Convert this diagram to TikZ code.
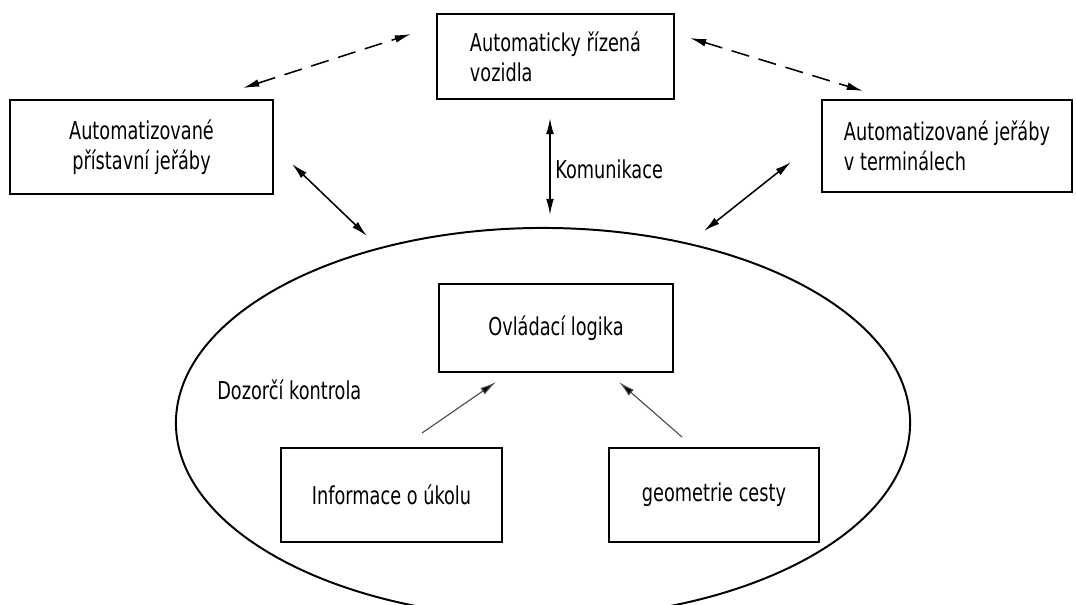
\documentclass[tikz,border=0pt]{standalone}
\usepackage{fontspec}
\setmainfont{DejaVu Sans}[FakeStretch=0.72]
\usepackage{tikz}
\usetikzlibrary{arrows.meta,shapes,positioning}

\begin{document}
\begin{tikzpicture}[x=0.025cm, y=-0.025cm,
		basic/.style = {draw, line width=2pt, rectangle, inner sep=0pt, font=\fontsize{17.5}{21.5}\selectfont},
		outer/.style = {basic, align=left},
		inner/.style = {basic, align=center},
		txt/.style   = {inner sep=0pt, anchor=west, font=\fontsize{17.5}{21.5}\selectfont},
		link/.style  = {<->, line width=1.1pt},
		feed/.style  = {->, line width=0.8pt, draw=black!70},
		>={Latex[length=11.5pt,width=5.5pt]}]

		\useasboundingbox (0,0) rectangle (1076,604);

		% Supervisory control, the big ellipse
		\node[draw, ellipse, line width=1.4pt, minimum width=18.35cm, minimum height=9.75cm] (ctrl) at (543,423) {};
		\node[txt] (ctrltext) at (217,390) {Dozorčí kontrola};

		% The three machine groups round it
		\node[outer, minimum width=5.925cm, minimum height=2.125cm] (agv) at (555.5,56.5) {Automaticky řízená\\vozidla};
		\node[outer, align=center, minimum width=6.575cm, minimum height=2.35cm] (quay) at (141.5,147) {Automatizované\\přístavní jeřáby};
		\node[outer, minimum width=6.25cm, minimum height=2.3cm] (yard) at (947,146) {Automatizované jeřáby\\v terminálech};

		% Inside the ellipse
		\begin{scope}[every node/.style={inner, minimum height=2.35cm}]
		\node[minimum width=5.85cm, minimum height=2.2cm] (logic) at (556,328) {Ovládací logika};
		\node[minimum width=5.525cm] (task) at (391.5,495) {Informace o úkolu};
		\node[minimum width=5.25cm] (path) at (714,495) {geometrie cesty};
		\end{scope}

		% Free ends of the connectors
		\coordinate (d1) at (243,88);  \coordinate (d2) at (411,34);
		\coordinate (d3) at (690,38);  \coordinate (d4) at (863,91);
		\coordinate (s1) at (292,164); \coordinate (s2) at (367,236);
		\coordinate (c1) at (550,118); \coordinate (c2) at (550,215);
		\coordinate (r1) at (791,162); \coordinate (r2) at (704,231);
		\coordinate (f1) at (422,433); \coordinate (f2) at (496,382);
		\coordinate (g1) at (682,437); \coordinate (g2) at (619,382);

		% Links between the machines and the control
		\foreach \a/\b in {d1/d2, d3/d4}
		\draw[link, dash pattern=on 13pt off 7pt] (\a) -- (\b);

		\foreach \a/\b in {s1/s2, c1/c2, r1/r2}
		\draw[link] (\a) -- (\b);

		\node[txt] (comm) at (555,169) {Komunikace};

		% Inputs of the control logic
		\foreach \a/\b in {f1/f2, g1/g2}
		\draw[feed, -{Latex[length=11.5pt,width=5.5pt,fill=black]}] (\a) -- (\b);

	\end{tikzpicture}
\end{document}
